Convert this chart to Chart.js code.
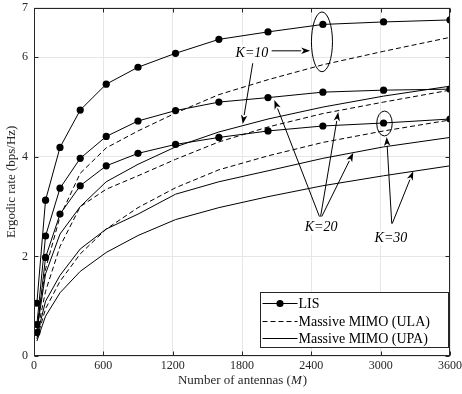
<!DOCTYPE html>
<html><head><meta charset="utf-8">
<script src="https://cdn.jsdelivr.net/npm/chart.js@4.4.1/dist/chart.umd.min.js"></script>
<style>html,body{margin:0;padding:0;background:#fff}#wrap{width:462px;height:394px}</style>
</head><body><div id="wrap"><canvas id="c" width="462" height="394"></canvas></div>
<script>
// ---- data ----
const antennas = [25, 100, 225, 400, 625, 900, 1225, 1600, 2025, 2500, 3025, 3600];
const lisK10 = [1.06, 3.13, 4.19, 4.94, 5.46, 5.80, 6.08, 6.36, 6.51, 6.66, 6.71, 6.75];
const lisK20 = [0.63, 2.41, 3.37, 3.97, 4.41, 4.72, 4.93, 5.10, 5.19, 5.30, 5.34, 5.36];
const lisK30 = [0.47, 1.98, 2.85, 3.42, 3.82, 4.07, 4.25, 4.39, 4.52, 4.62, 4.68, 4.76];
const ulaK10 = [0.60, 1.75, 2.80, 3.67, 4.18, 4.52, 4.88, 5.25, 5.55, 5.85, 6.12, 6.40];
const ulaK20 = [0.45, 1.30, 2.20, 3.00, 3.35, 3.62, 3.95, 4.30, 4.60, 4.87, 5.10, 5.34];
const ulaK30 = [0.35, 0.95, 1.50, 2.05, 2.55, 2.98, 3.38, 3.74, 4.02, 4.29, 4.52, 4.74];
const upaK10 = [0.50, 1.65, 2.45, 3.00, 3.50, 3.85, 4.20, 4.50, 4.76, 5.00, 5.22, 5.42];
const upaK20 = [0.40, 1.10, 1.62, 2.15, 2.55, 2.85, 3.25, 3.50, 3.72, 3.97, 4.20, 4.39];
const upaK30 = [0.30, 0.80, 1.27, 1.70, 2.08, 2.42, 2.74, 2.98, 3.20, 3.42, 3.62, 3.82];
const xTicks = [0, 600, 1200, 1800, 2400, 3000, 3600];
const yTicks = [0, 2, 4, 6, 7];
const legendLabels = ['LIS', 'Massive MIMO (ULA)', 'Massive MIMO (UPA)'];
const xTitle = ['Number of antennas (', 'M', ')'];
const yTitle = 'Ergodic rate (bps/Hz)';
const kLabels = ['K=10', 'K=20', 'K=30'];

// annotation geometry in data units
const ellipses = [
  {x: 2492, y: 6.31, rx: 91, ry: 0.60},
  {x: 3033, y: 4.67, rx: 67, ry: 0.25}
];
const labelPos = [
  {x: 1886, y: 6.08},
  {x: 2484, y: 2.58},
  {x: 3089, y: 2.36}
];
const arrows = [
  {x0: 2057, y0: 6.13, x1: 2390, y1: 6.13},
  {x0: 1893, y0: 5.88, x1: 1806, y1: 4.66},
  {x0: 2470, y0: 2.80, x1: 2080, y1: 5.14},
  {x0: 2480, y0: 2.80, x1: 2633, y1: 4.90},
  {x0: 2490, y0: 2.80, x1: 2763, y1: 4.08},
  {x0: 3096, y0: 2.66, x1: 3052, y1: 4.40},
  {x0: 3100, y0: 2.66, x1: 3282, y1: 3.71}
];

const FONT = "'Liberation Serif', 'Times New Roman', serif";
const toXY = arr => arr.map((v, i) => ({x: antennas[i], y: v}));
const lis = (d) => ({data: toXY(d), borderColor: '#000', borderWidth: 1, pointRadius: 3.6,
  pointBackgroundColor: '#000', pointBorderColor: '#000', pointBorderWidth: 0, tension: 0, fill: false});
const ula = (d) => ({data: toXY(d), borderColor: '#000', borderWidth: 1, borderDash: [5, 3],
  pointRadius: 0, tension: 0, fill: false});
const upa = (d) => ({data: toXY(d), borderColor: '#000', borderWidth: 1, pointRadius: 0, tension: 0, fill: false});

const decor = {
  id: 'decor',
  afterDraw(chart) {
    const {ctx, chartArea: a, scales: {x, y}} = chart;
    ctx.save();
    ctx.strokeStyle = '#000';
    ctx.lineWidth = 1;
    const L = Math.round(a.left) + 0.5, R = Math.round(a.right) - 0.5;
    const T = Math.round(a.top) + 0.5, B = Math.round(a.bottom) - 0.5;
    // inward ticks
    ctx.strokeStyle = '#262626';
    ctx.beginPath();
    xTicks.forEach(v => {
      const px = Math.round(x.getPixelForValue(v)) + 0.5;
      ctx.moveTo(px, B); ctx.lineTo(px, B - 4);
      ctx.moveTo(px, T); ctx.lineTo(px, T + 4);
    });
    yTicks.forEach(v => {
      const py = Math.round(y.getPixelForValue(v)) + 0.5;
      ctx.moveTo(L, py); ctx.lineTo(L + 4, py);
      ctx.moveTo(R, py); ctx.lineTo(R - 4, py);
    });
    ctx.stroke();
    // box
    ctx.strokeRect(L, T, R - L, B - T);

    // annotations
    ctx.strokeStyle = '#000';
    ctx.fillStyle = '#000';
    ellipses.forEach(e => {
      const cx = x.getPixelForValue(e.x), cy = y.getPixelForValue(e.y);
      const rx = Math.abs(x.getPixelForValue(e.x + e.rx) - cx);
      const ry = Math.abs(y.getPixelForValue(e.y + e.ry) - cy);
      ctx.beginPath(); ctx.ellipse(cx, cy, rx, ry, 0, 0, Math.PI * 2); ctx.stroke();
    });
    arrows.forEach(r => {
      const x0 = x.getPixelForValue(r.x0), y0 = y.getPixelForValue(r.y0);
      const x1 = x.getPixelForValue(r.x1), y1 = y.getPixelForValue(r.y1);
      const ang = Math.atan2(y1 - y0, x1 - x0);
      const hl = 9, hw = 3.2;
      const bx = x1 - hl * Math.cos(ang), by = y1 - hl * Math.sin(ang);
      ctx.beginPath(); ctx.moveTo(x0, y0); ctx.lineTo(bx, by); ctx.stroke();
      ctx.beginPath();
      ctx.moveTo(x1, y1);
      ctx.lineTo(bx + hw * Math.sin(ang), by - hw * Math.cos(ang));
      ctx.lineTo(x1 - (hl - 2.5) * Math.cos(ang), y1 - (hl - 2.5) * Math.sin(ang));
      ctx.lineTo(bx - hw * Math.sin(ang), by + hw * Math.cos(ang));
      ctx.closePath(); ctx.fill();
    });
    ctx.font = 'italic 14px ' + FONT;
    ctx.textAlign = 'center'; ctx.textBaseline = 'middle';
    kLabels.forEach((t, i) => {
      const p = labelPos[i];
      const px = x.getPixelForValue(p.x), py = y.getPixelForValue(p.y);
      const w = ctx.measureText(t).width;
      ctx.fillStyle = '#fff';
      ctx.fillRect(px - w / 2 - 1, py - 8, w + 2, 15);
      ctx.fillStyle = '#000';
      ctx.fillText(t, px, py);
    });

    // legend
    const lx0 = Math.round(a.right) - 189.5, lx1 = Math.round(a.right) - 1.5;
    const ly0 = Math.round(a.bottom) - 63.5, ly1 = Math.round(a.bottom) - 8.5;
    ctx.fillStyle = '#fff';
    ctx.fillRect(lx0, ly0, lx1 - lx0, ly1 - ly0);
    ctx.strokeStyle = '#262626';
    ctx.strokeRect(lx0, ly0, lx1 - lx0, ly1 - ly0);
    const rows = [ly0 + 10, ly0 + 28, ly0 + 45.5];
    ctx.strokeStyle = '#000'; ctx.fillStyle = '#000';
    ctx.font = '14px ' + FONT;
    ctx.textAlign = 'left'; ctx.textBaseline = 'middle';
    rows.forEach((ry, i) => {
      const yy = Math.round(ry) + 0.5;
      ctx.setLineDash(i === 1 ? [5, 3] : []);
      ctx.beginPath(); ctx.moveTo(lx0 + 2, yy); ctx.lineTo(lx0 + 37, yy); ctx.stroke();
      ctx.setLineDash([]);
      if (i === 0) { ctx.beginPath(); ctx.arc(lx0 + 19.5, yy, 3.6, 0, Math.PI * 2); ctx.fill(); }
      ctx.fillText(legendLabels[i], lx0 + 38, yy + 0.5);
    });

    // axis titles
    ctx.fillStyle = '#262626';
    ctx.textBaseline = 'middle';
    const f1 = '13px ' + FONT, f2 = 'italic 13px ' + FONT;
    ctx.font = f1; const w1 = ctx.measureText(xTitle[0]).width, w3 = ctx.measureText(xTitle[2]).width;
    ctx.font = f2; const w2 = ctx.measureText(xTitle[1]).width;
    let sx = (a.left + a.right) / 2 - (w1 + w2 + w3) / 2;
    const ty = 381;
    ctx.textAlign = 'left';
    ctx.font = f1; ctx.fillText(xTitle[0], sx, ty);
    ctx.font = f2; ctx.fillText(xTitle[1], sx + w1, ty);
    ctx.font = f1; ctx.fillText(xTitle[2], sx + w1 + w2 + 1, ty);
    ctx.save();
    ctx.translate(12, (a.top + a.bottom) / 2);
    ctx.rotate(-Math.PI / 2);
    ctx.textAlign = 'center';
    ctx.font = f1;
    ctx.fillText(yTitle, 0, 0);
    ctx.restore();
    ctx.restore();
  }
};

new Chart(document.getElementById('c'), {
  type: 'line',
  data: {datasets: [lis(lisK10), lis(lisK20), lis(lisK30), ula(ulaK10), ula(ulaK20), ula(ulaK30),
    upa(upaK10), upa(upaK20), upa(upaK30)]},
  options: {
    responsive: false, devicePixelRatio: 1, animation: false,
    layout: {padding: {top: 0, right: 0, left: 0, bottom: 0}},
    plugins: {legend: {display: false}, tooltip: {enabled: false}},
    scales: {
      x: {type: 'linear', min: 0, max: 3600,
        afterBuildTicks: s => { s.ticks = xTicks.map(v => ({value: v})); },
        afterFit: s => { s.height = 38; s.paddingLeft = 0; s.paddingRight = 12; },
        ticks: {font: {family: FONT, size: 12}, color: '#262626', padding: 3, maxRotation: 0, autoSkip: false,
          callback: v => String(v)},
        grid: {color: '#e6e6e6', drawTicks: false, lineWidth: 1},
        border: {display: false}},
      y: {type: 'linear', min: 0, max: 7,
        afterBuildTicks: s => { s.ticks = yTicks.map(v => ({value: v})); },
        afterFit: s => { s.width = 34; s.paddingTop = 7.5; s.paddingBottom = 0; },
        ticks: {font: {family: FONT, size: 12}, color: '#262626', padding: 6, autoSkip: false,
          callback: v => String(v)},
        grid: {color: '#e6e6e6', drawTicks: false, lineWidth: 1},
        border: {display: false}}
    }
  },
  plugins: [decor]
});
</script></body></html>
